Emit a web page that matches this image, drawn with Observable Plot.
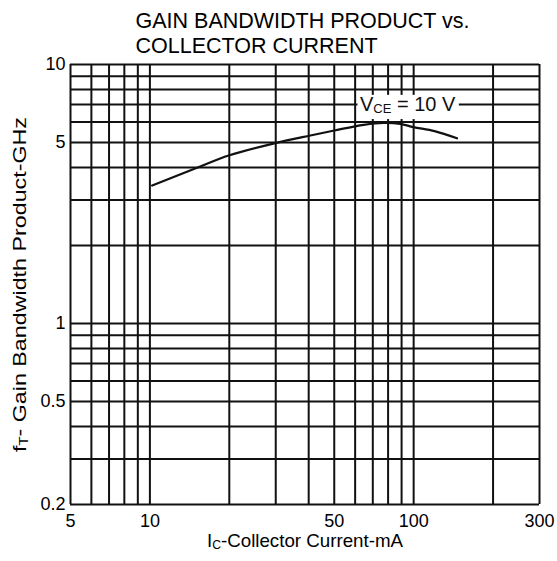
<!DOCTYPE html>
<html><head><meta charset="utf-8">
<script src="https://cdn.jsdelivr.net/npm/d3@7"></script>
<script src="https://cdn.jsdelivr.net/npm/@observablehq/plot@0.6"></script>
<style>body{margin:0;background:#fff} svg{display:block}</style>
</head><body><div id="chart"></div>
<script>
const titleLines = ["GAIN BANDWIDTH PRODUCT vs.", "COLLECTOR CURRENT"];
const xLabel = "IC-Collector Current-mA";
const yLabel = "fT- Gain Bandwidth Product-GHz";
const xGrid = [5,6,7,8,9,10,20,30,40,50,60,70,80,90,100,200,300];
const yGrid = [0.2,0.3,0.4,0.5,0.6,0.7,0.8,0.9,1,2,3,4,5,6,7,8,9,10];
const xTickLabels = [5,10,50,100,300];
const yTickLabels = [0.2,0.5,1,5,10];
const icMA  = [10.2, 15.6, 19.9, 29.9, 40.6, 50, 64.7, 77, 89, 99.8, 120, 146];
const ftGHz = [3.41, 4.05, 4.45, 4.97, 5.32, 5.56, 5.85, 5.95, 5.9, 5.73, 5.53, 5.19];
const annText = ["VCE = 10 V"];
const annX = [61.5], annY = [7];
const boxX1 = [61.5], boxX2 = [149], boxY1 = [6.13], boxY2 = [7.6];

const curve = icMA.map((x, i) => ({ic: x, ft: ftGHz[i]}));
const ann = annText.map((t, i) => ({t, x: annX[i], y: annY[i]}));
const box = boxX1.map((x1, i) => ({x1, x2: boxX2[i], y1: boxY1[i], y2: boxY2[i]}));

const ink = "#111";
const svg = Plot.plot({
  width: 557, height: 561,
  marginLeft: 70, marginRight: 18, marginTop: 64, marginBottom: 57,
  style: {fontFamily: "Arial, 'Liberation Sans', Helvetica, sans-serif", color: "#000", background: "#fff"},
  x: {type: "log", domain: [5, 300]},
  y: {type: "log", domain: [0.2, 10]},
  marks: [
    Plot.ruleX(xGrid, {stroke: ink, strokeWidth: 2}),
    Plot.ruleY(yGrid, {stroke: ink, strokeWidth: 2}),
    Plot.line(curve, {x: "ic", y: "ft", curve: "catmull-rom", stroke: ink, strokeWidth: 2.2}),
    Plot.rect(box, {x1: "x1", x2: "x2", y1: "y1", y2: "y2", fill: "white"}),
    Plot.text(ann, {x: "x", y: "y", text: "t", textAnchor: "start", fontSize: 20, dx: 2, fill: ink}),
    Plot.axisX({ticks: xTickLabels, tickSize: 0, tickPadding: 10, fontSize: 18, label: null, tickFormat: d => String(d)}),
    Plot.axisY({ticks: yTickLabels, tickSize: 0, tickPadding: 5, fontSize: 18, label: null, tickFormat: d => String(d)}),
    Plot.text([yLabel], {text: d => d, frameAnchor: "left", rotate: -90, dx: -51, fontSize: 19, textAnchor: "middle"}),
    Plot.text([xLabel], {text: d => d, frameAnchor: "bottom", dy: 42, fontSize: 18.5}),
    Plot.text([titleLines.join("\n")], {text: d => d, frameAnchor: "top-left", textAnchor: "start", lineAnchor: "top", dx: 65, dy: -55, fontSize: 21.5, lineHeight: 1.18})
  ]
});

function subscript(full, pre, sub, post, subSize, shift, length) {
  svg.querySelectorAll("text").forEach(el => {
    if (el.textContent !== full) return;
    el.textContent = "";
    const ns = "http://www.w3.org/2000/svg";
    const a = document.createElementNS(ns, "tspan"); a.textContent = pre; el.appendChild(a);
    const b = document.createElementNS(ns, "tspan"); b.textContent = sub;
    b.setAttribute("font-size", subSize); b.setAttribute("dy", shift); el.appendChild(b);
    const c = document.createElementNS(ns, "tspan"); c.textContent = post;
    c.setAttribute("dy", -shift); el.appendChild(c);
    if (length) { el.setAttribute("textLength", length); el.setAttribute("lengthAdjust", "spacingAndGlyphs"); }
  });
}
subscript("VCE = 10 V", "V", "CE", " = 10 V", 13, 2);
subscript(yLabel, "f", "T", "- Gain Bandwidth Product-GHz", 12, 2, 335);
subscript(xLabel, "I", "C", "-Collector Current-mA", 12, 2, 196);

document.getElementById("chart").appendChild(svg);
</script>
</body></html>
